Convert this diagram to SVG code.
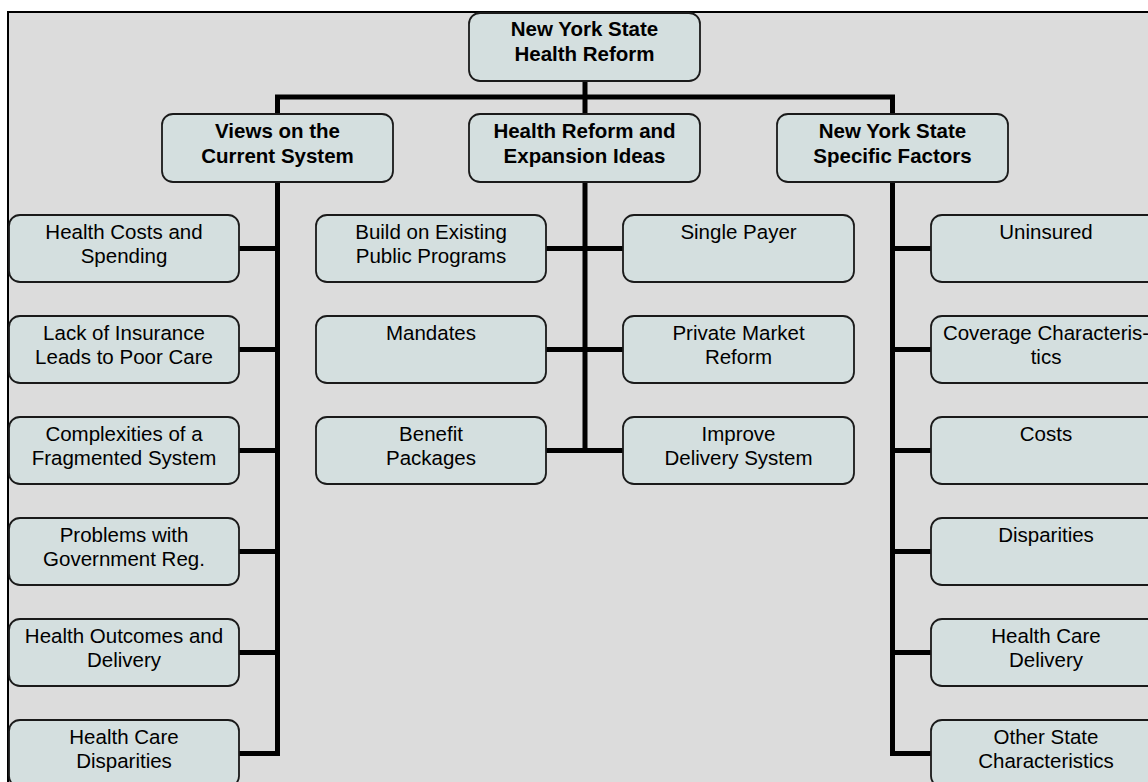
<svg xmlns="http://www.w3.org/2000/svg" width="1148" height="782" viewBox="0 0 1148 782">
<style>
.box{fill:#d4dfdf;stroke:#1a1a1a;stroke-width:1.8}
.t{font-family:"Liberation Sans",Arial,sans-serif;font-size:20.5px;fill:#000;text-anchor:middle}
.b{font-weight:bold}
.c{fill:none;stroke:#000;stroke-width:5;stroke-linejoin:miter}
</style>
<rect x="0" y="0" width="1148" height="782" fill="#ffffff"/>
<rect x="8" y="12" width="1200" height="800" fill="#dcdcdc" stroke="#000" stroke-width="2"/>
<g id="connectors">
<path class="c" d="M585 81V97M277.5 114V97H892.5V114M585 97V114"/>
<path class="c" d="M277.5 182V753.5H239M239 248.5H277.5M239 349.5H277.5M239 450.5H277.5M239 551.5H277.5M239 652.5H277.5"/>
<path class="c" d="M585 182V450.5M546 248.5H623M546 349.5H623M546 450.5H623"/>
<path class="c" d="M892.5 182V753.5H931M892.5 248.5H931M892.5 349.5H931M892.5 450.5H931M892.5 551.5H931M892.5 652.5H931"/>
</g>
<g id="root"><rect class="box" x="469" y="13" width="231" height="68" rx="11"/><text class="t b" x="584.5" y="36">New York State</text><text class="t b" x="584.5" y="61">Health Reform</text></g>
<g id="views"><rect class="box" x="162" y="114" width="231" height="68" rx="11"/><text class="t b" x="277.5" y="138">Views on the</text><text class="t b" x="277.5" y="163">Current System</text></g>
<g id="reform"><rect class="box" x="469" y="114" width="231" height="68" rx="11"/><text class="t b" x="584.5" y="138">Health Reform and</text><text class="t b" x="584.5" y="163">Expansion Ideas</text></g>
<g id="nys"><rect class="box" x="777" y="114" width="231" height="68" rx="11"/><text class="t b" x="892.5" y="138">New York State</text><text class="t b" x="892.5" y="163">Specific Factors</text></g>

<g id="l1"><rect class="box" x="9" y="215" width="230" height="67" rx="11"/><text class="t" x="124" y="239">Health Costs and</text><text class="t" x="124" y="263">Spending</text></g>
<g id="l2"><rect class="box" x="9" y="316" width="230" height="67" rx="11"/><text class="t" x="124" y="340">Lack of Insurance</text><text class="t" x="124" y="364">Leads to Poor Care</text></g>
<g id="l3"><rect class="box" x="9" y="417" width="230" height="67" rx="11"/><text class="t" x="124" y="441">Complexities of a</text><text class="t" x="124" y="465">Fragmented System</text></g>
<g id="l4"><rect class="box" x="9" y="518" width="230" height="67" rx="11"/><text class="t" x="124" y="542">Problems with</text><text class="t" x="124" y="566">Government Reg.</text></g>
<g id="l5"><rect class="box" x="9" y="619" width="230" height="67" rx="11"/><text class="t" x="124" y="643">Health Outcomes and</text><text class="t" x="124" y="667">Delivery</text></g>
<g id="l6"><rect class="box" x="9" y="720" width="230" height="67" rx="11"/><text class="t" x="124" y="744">Health Care</text><text class="t" x="124" y="768">Disparities</text></g>

<g id="m1"><rect class="box" x="316" y="215" width="230" height="67" rx="11"/><text class="t" x="431" y="239">Build on Existing</text><text class="t" x="431" y="263">Public Programs</text></g>
<g id="m2"><rect class="box" x="316" y="316" width="230" height="67" rx="11"/><text class="t" x="431" y="340">Mandates</text></g>
<g id="m3"><rect class="box" x="316" y="417" width="230" height="67" rx="11"/><text class="t" x="431" y="441">Benefit</text><text class="t" x="431" y="465">Packages</text></g>
<g id="m4"><rect class="box" x="623" y="215" width="231" height="67" rx="11"/><text class="t" x="738.5" y="239">Single Payer</text></g>
<g id="m5"><rect class="box" x="623" y="316" width="231" height="67" rx="11"/><text class="t" x="738.5" y="340">Private Market</text><text class="t" x="738.5" y="364">Reform</text></g>
<g id="m6"><rect class="box" x="623" y="417" width="231" height="67" rx="11"/><text class="t" x="738.5" y="441">Improve</text><text class="t" x="738.5" y="465">Delivery System</text></g>

<g id="r1"><rect class="box" x="931" y="215" width="230" height="67" rx="11"/><text class="t" x="1046" y="239">Uninsured</text></g>
<g id="r2"><rect class="box" x="931" y="316" width="230" height="67" rx="11"/><text class="t" x="1046" y="340">Coverage Characteris-</text><text class="t" x="1046" y="364">tics</text></g>
<g id="r3"><rect class="box" x="931" y="417" width="230" height="67" rx="11"/><text class="t" x="1046" y="441">Costs</text></g>
<g id="r4"><rect class="box" x="931" y="518" width="230" height="67" rx="11"/><text class="t" x="1046" y="542">Disparities</text></g>
<g id="r5"><rect class="box" x="931" y="619" width="230" height="67" rx="11"/><text class="t" x="1046" y="643">Health Care</text><text class="t" x="1046" y="667">Delivery</text></g>
<g id="r6"><rect class="box" x="931" y="720" width="230" height="67" rx="11"/><text class="t" x="1046" y="744">Other State</text><text class="t" x="1046" y="768">Characteristics</text></g>
</svg>
